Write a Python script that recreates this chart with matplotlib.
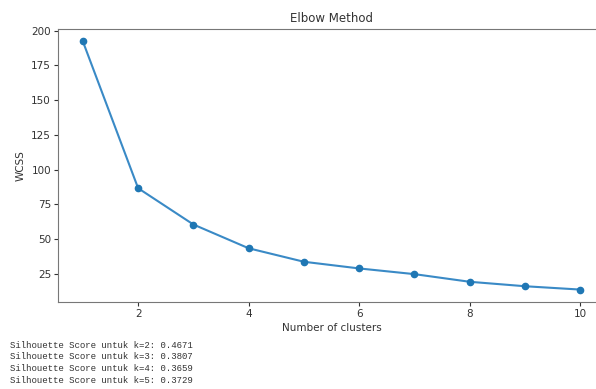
import matplotlib
matplotlib.use('Agg')
import matplotlib.pyplot as plt

# Data
k_values = [1, 2, 3, 4, 5, 6, 7, 8, 9, 10]
wcss = [192.2, 86.6, 60.5, 43.4, 33.7, 28.9, 24.8, 19.3, 16.1, 13.7]
sil_k = [2, 3, 4, 5]
sil_scores = ['0.4671', '0.3807', '0.3659', '0.3729']

fig = plt.figure(figsize=(5.96, 3.89), dpi=100)
ax = fig.add_axes([0.0973, 0.2237, 0.918, 0.7018])
ax.plot(k_values, wcss, color='#3a8ac6', linewidth=1.5)
ax.plot(k_values, wcss, 'o', color='#1f77b4', markersize=4.5)
ax.set_title('Elbow Method', fontsize=8.5, color='#333333', pad=5)
ax.set_xlabel('Number of clusters', fontsize=7.5, color='#333333', labelpad=3)
ax.set_ylabel('WCSS', fontsize=7.5, color='#333333', labelpad=4)
ax.tick_params(labelsize=7.5, colors='#333333', length=3, pad=2)
for sp in ax.spines.values():
    sp.set_color('#777777')
ax.spines['right'].set_visible(False)

for i, (k, s) in enumerate(zip(sil_k, sil_scores)):
    fig.text(10 / 596, 1 - (345 + i * 11.7) / 389, f'Silhouette Score untuk k={k}: {s}',
             family='Liberation Mono', fontsize=6.5, color='#333333', va='center')

fig.savefig('out.png', dpi=100)
